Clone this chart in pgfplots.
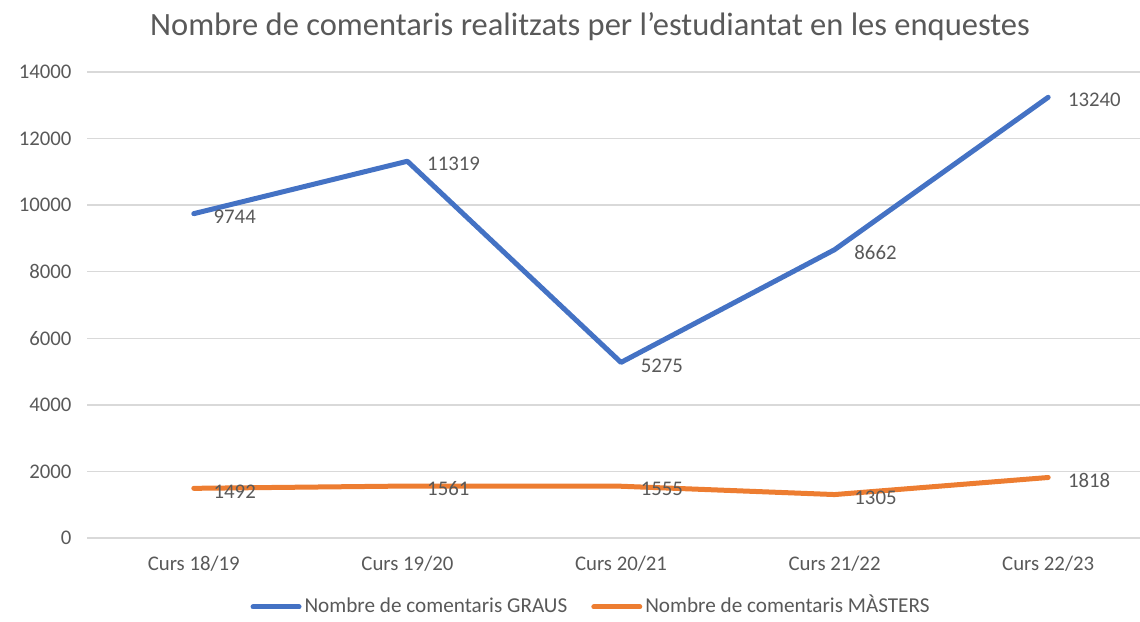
\documentclass[border=0pt]{standalone}
\usepackage{pgfplots}
\pgfplotsset{compat=1.18}
\usepackage{fontspec}
\setmainfont{Carlito}
\definecolor{blueS}{HTML}{4472C4}
\definecolor{orangeS}{HTML}{ED7D31}
\definecolor{txt}{HTML}{595959}
\definecolor{gridc}{HTML}{D9D9D9}
\begin{document}
\begin{tikzpicture}[x=1pt,y=1pt]
\useasboundingbox (0,0) rectangle (1140,621);
\node[font=\fontsize{32.5}{38}\selectfont, text=txt] at (590,594) {Nombre de comentaris realitzats per l’estudiantat en les enquestes};
\begin{axis}[at={(87pt,83pt)}, anchor=south west, scale only axis,
  width=1053pt, height=466pt,
  xmin=-0.5, xmax=4.43, ymin=0, ymax=14000,
  xtick={0,1,2,3,4},
  xticklabels={Curs 18/19,Curs 19/20,Curs 20/21,Curs 21/22,Curs 22/23},
  ytick={0,2000,4000,6000,8000,10000,12000,14000},
  scaled y ticks=false,
  ymajorgrids, major grid style={gridc, line width=1.5pt},
  axis line style={draw=none}, tick style={draw=none},
  /pgf/number format/1000 sep={}, /pgf/number format/assume math mode=true,
  ticklabel style={font=\fontsize{20.8}{24}\selectfont, text=txt},
  yticklabel style={xshift=-12pt},
  xticklabel style={yshift=-15pt},
  clip=false,
  nodes near coords, point meta=explicit symbolic,
  nodes near coords style={anchor=west, xshift=14pt, yshift=-3pt, font=\fontsize{20.8}{24}\selectfont, text=txt},
  legend columns=2,
  legend style={at={(0.4777,-0.148)}, anchor=center, draw=none, fill=none,
    font=\fontsize{21.2}{24}\selectfont, text=txt,
    nodes={inner xsep=0pt, text height=15pt, text depth=4pt},
    /tikz/every even column/.append style={column sep=24pt},
    /tikz/every odd column/.append style={column sep=3pt}},
  legend image code/.code={\draw[#1, line width=5pt, line cap=round] (0pt,0pt) -- (46pt,0pt);},
  legend cell align=left,
]
\addplot[blueS, line width=5pt, line cap=round, line join=round] coordinates {
  (0,9744) [9744] (1,11319) [11319] (2,5275) [5275] (3,8662) [8662] (4,13240) [13240]};
\addlegendentry{Nombre de comentaris GRAUS}
\addplot[orangeS, line width=5pt, line cap=round, line join=round] coordinates {
  (0,1492) [1492] (1,1561) [1561] (2,1555) [1555] (3,1305) [1305] (4,1818) [1818]};
\addlegendentry{Nombre de comentaris MÀSTERS}
\end{axis}
\end{tikzpicture}
\end{document}
